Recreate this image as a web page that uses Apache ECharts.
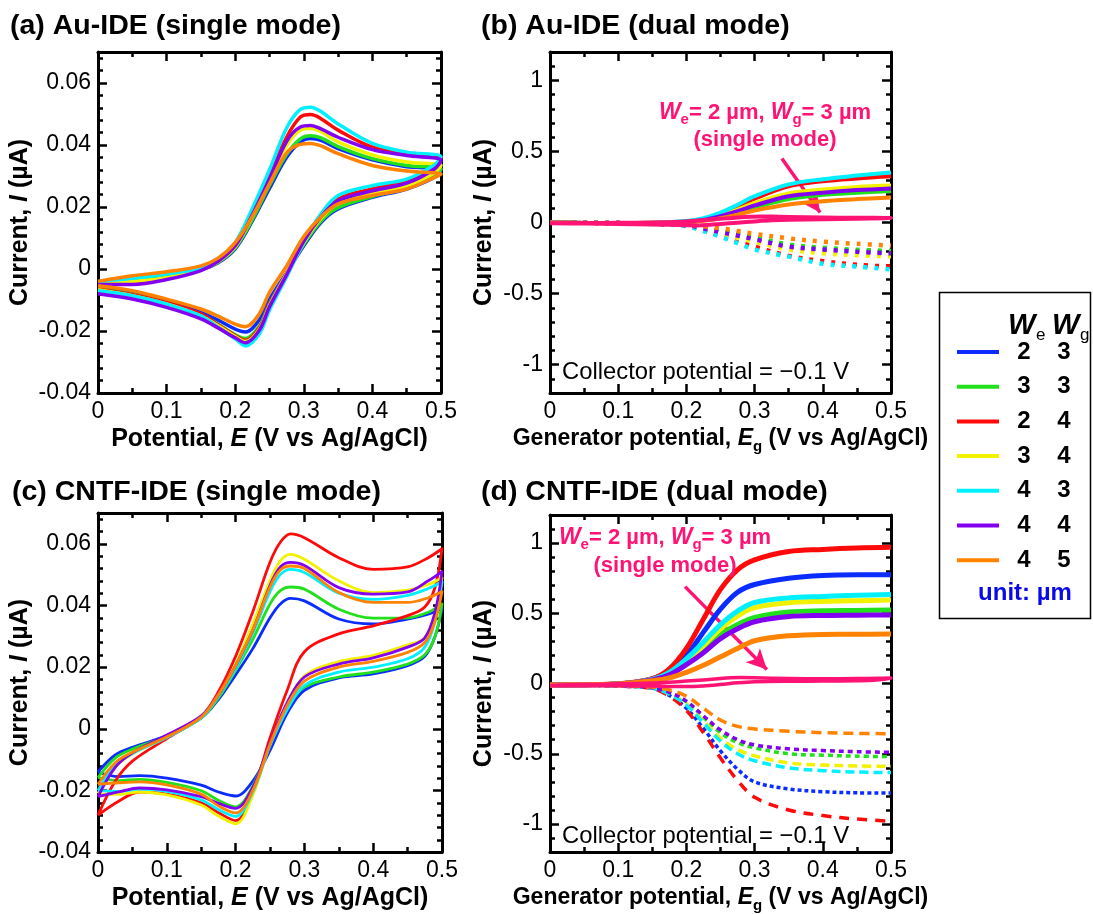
<!DOCTYPE html>
<html>
<head>
<meta charset="utf-8">
<title>IDE redox cycling</title>
<script src="https://cdn.jsdelivr.net/npm/echarts@6/dist/echarts.min.js"></script>
<style>
  html, body { margin: 0; padding: 0; background: #ffffff; }
  #chart { width: 1093px; height: 914px; }
</style>
</head>
<body>
<div id="chart"></div>
<script>
const FONT = '"Liberation Sans", Arial, Helvetica, sans-serif';

// Electrode widths (µm) of the seven designs, in legend order
const electrodeWe = [2, 3, 2, 3, 4, 4, 4];
const electrodeWg = [3, 3, 4, 4, 3, 4, 5];
const traceColors = ['#0a2cff', '#22e01c', '#ff0a0a', '#f2f200', '#00f0ff', '#8400f0', '#ff8200'];
const singleModeColor = '#ff1476';

// Tick labels
const potentialTicks = [0, 0.1, 0.2, 0.3, 0.4, 0.5];
const cvCurrentTicks = [-0.04, -0.02, 0, 0.02, 0.04, 0.06];
const dualCurrentTicks = [-1, -0.5, 0, 0.5, 1];

// (a) Au-IDE, single mode: forward (anodic) sweep, E in V, I in µA
const auCvForwardE = [0, 0.05, 0.1, 0.15, 0.175, 0.2, 0.225, 0.25, 0.275, 0.295, 0.31, 0.325, 0.35, 0.4, 0.45, 0.5];
const auCvForwardI = [
  [-0.0045, -0.0035, -0.0024, -0.0003, 0.0020, 0.0065, 0.0155, 0.0260, 0.0360, 0.0410, 0.0421, 0.0415, 0.0388, 0.0352, 0.0330, 0.0320],
  [-0.0045, -0.0035, -0.0025, -0.0003, 0.0022, 0.0068, 0.0160, 0.0270, 0.0370, 0.0420, 0.0430, 0.0423, 0.0395, 0.0356, 0.0334, 0.0323],
  [-0.0045, -0.0043, -0.0030, -0.0003, 0.0025, 0.0075, 0.0180, 0.0300, 0.0425, 0.0490, 0.0498, 0.0485, 0.0448, 0.0393, 0.0372, 0.0360],
  [-0.0045, -0.0040, -0.0028, -0.0003, 0.0024, 0.0072, 0.0170, 0.0285, 0.0398, 0.0448, 0.0453, 0.0443, 0.0410, 0.0368, 0.0345, 0.0334],
  [-0.0040, -0.0030, -0.0016, 0.0003, 0.0030, 0.0085, 0.0195, 0.0320, 0.0455, 0.0515, 0.0522, 0.0508, 0.0468, 0.0405, 0.0377, 0.0362],
  [-0.0050, -0.0050, -0.0034, -0.0005, 0.0025, 0.0075, 0.0175, 0.0290, 0.0412, 0.0458, 0.0463, 0.0452, 0.0425, 0.0385, 0.0366, 0.0350],
  [-0.0040, -0.0022, -0.0009, 0.0010, 0.0035, 0.0085, 0.0170, 0.0275, 0.0375, 0.0402, 0.0405, 0.0397, 0.0372, 0.0334, 0.0316, 0.0306]
];
// (a) reverse (cathodic) sweep
const auCvReverseE = [0.5, 0.49, 0.45, 0.4, 0.35, 0.325, 0.3, 0.275, 0.25, 0.235, 0.215, 0.2, 0.175, 0.15, 0.1, 0.05, 0];
const auCvReverseI = [
  [0.0320, 0.0295, 0.0258, 0.0231, 0.0194, 0.0150, 0.0075, -0.0012, -0.0098, -0.0165, -0.0203, -0.0194, -0.0165, -0.0140, -0.0102, -0.0078, -0.0060],
  [0.0323, 0.0298, 0.0262, 0.0234, 0.0198, 0.0155, 0.0080, -0.0015, -0.0112, -0.0185, -0.0224, -0.0212, -0.0178, -0.0148, -0.0108, -0.0082, -0.0063],
  [0.0360, 0.0325, 0.0283, 0.0258, 0.0226, 0.0172, 0.0090, -0.0015, -0.0115, -0.0190, -0.0230, -0.0215, -0.0180, -0.0145, -0.0108, -0.0083, -0.0065],
  [0.0334, 0.0310, 0.0269, 0.0244, 0.0212, 0.0163, 0.0085, -0.0015, -0.0118, -0.0195, -0.0234, -0.0218, -0.0183, -0.0152, -0.0113, -0.0086, -0.0067],
  [0.0362, 0.0335, 0.0290, 0.0269, 0.0237, 0.0178, 0.0088, -0.0025, -0.0132, -0.0210, -0.0248, -0.0225, -0.0188, -0.0151, -0.0113, -0.0086, -0.0070],
  [0.0350, 0.0322, 0.0277, 0.0252, 0.0220, 0.0168, 0.0090, -0.0018, -0.0122, -0.0198, -0.0238, -0.0222, -0.0190, -0.0161, -0.0124, -0.0097, -0.0080],
  [0.0306, 0.0295, 0.0258, 0.0237, 0.0210, 0.0168, 0.0105, 0.0010, -0.0075, -0.0145, -0.0186, -0.0178, -0.0152, -0.0129, -0.0097, -0.0070, -0.0054]
];

// (c) CNTF-IDE, single mode: forward sweep
const cntfCvForwardE = [0, 0.025, 0.05, 0.1, 0.15, 0.175, 0.2, 0.225, 0.25, 0.265, 0.28, 0.3, 0.35, 0.4, 0.45, 0.48, 0.5];
const cntfCvForwardI = [
  [-0.0140, -0.0085, -0.0060, -0.0022, 0.0035, 0.0095, 0.0175, 0.0260, 0.0360, 0.0405, 0.0423, 0.0415, 0.0356, 0.0340, 0.0356, 0.0372, 0.0390],
  [-0.0158, -0.0095, -0.0066, -0.0024, 0.0035, 0.0100, 0.0190, 0.0290, 0.0405, 0.0448, 0.0460, 0.0453, 0.0388, 0.0359, 0.0360, 0.0378, 0.0405],
  [-0.0280, -0.0170, -0.0105, -0.0032, 0.0040, 0.0120, 0.0235, 0.0380, 0.0540, 0.0605, 0.0632, 0.0620, 0.0555, 0.0517, 0.0525, 0.0555, 0.0584],
  [-0.0210, -0.0125, -0.0082, -0.0027, 0.0040, 0.0110, 0.0210, 0.0340, 0.0480, 0.0545, 0.0566, 0.0550, 0.0480, 0.0442, 0.0450, 0.0468, 0.0490],
  [-0.0200, -0.0120, -0.0080, -0.0028, 0.0035, 0.0105, 0.0195, 0.0310, 0.0445, 0.0500, 0.0517, 0.0507, 0.0440, 0.0420, 0.0433, 0.0455, 0.0477],
  [-0.0220, -0.0125, -0.0078, -0.0020, 0.0042, 0.0110, 0.0205, 0.0320, 0.0465, 0.0525, 0.0540, 0.0530, 0.0458, 0.0437, 0.0444, 0.0480, 0.0510],
  [-0.0180, -0.0110, -0.0076, -0.0026, 0.0038, 0.0110, 0.0205, 0.0320, 0.0460, 0.0515, 0.0528, 0.0520, 0.0442, 0.0410, 0.0410, 0.0425, 0.0445]
];
// (c) reverse sweep
const cntfCvReverseE = [0.5, 0.49, 0.475, 0.45, 0.4, 0.35, 0.3, 0.275, 0.25, 0.225, 0.2, 0.175, 0.15, 0.1, 0.06, 0.03, 0];
const cntfCvReverseI = [
  [0.0390, 0.0300, 0.0235, 0.0205, 0.0178, 0.0165, 0.0125, 0.0050, -0.0070, -0.0170, -0.0218, -0.0205, -0.0183, -0.0160, -0.0152, -0.0155, -0.0140],
  [0.0405, 0.0300, 0.0240, 0.0210, 0.0184, 0.0168, 0.0135, 0.0065, -0.0050, -0.0185, -0.0253, -0.0232, -0.0201, -0.0174, -0.0164, -0.0168, -0.0158],
  [0.0584, 0.0460, 0.0395, 0.0367, 0.0334, 0.0308, 0.0250, 0.0125, -0.0030, -0.0205, -0.0298, -0.0272, -0.0240, -0.0212, -0.0205, -0.0235, -0.0280],
  [0.0490, 0.0370, 0.0295, 0.0272, 0.0238, 0.0218, 0.0172, 0.0080, -0.0050, -0.0215, -0.0308, -0.0283, -0.0247, -0.0214, -0.0205, -0.0213, -0.0210],
  [0.0477, 0.0350, 0.0265, 0.0227, 0.0200, 0.0184, 0.0141, 0.0062, -0.0055, -0.0205, -0.0284, -0.0262, -0.0231, -0.0203, -0.0196, -0.0203, -0.0200],
  [0.0510, 0.0380, 0.0295, 0.0265, 0.0230, 0.0210, 0.0168, 0.0085, -0.0045, -0.0190, -0.0258, -0.0242, -0.0220, -0.0198, -0.0192, -0.0205, -0.0220],
  [0.0445, 0.0350, 0.0280, 0.0248, 0.0219, 0.0200, 0.0155, 0.0076, -0.0050, -0.0200, -0.0273, -0.0250, -0.0212, -0.0182, -0.0172, -0.0175, -0.0180]
];

// (b) Au-IDE, dual mode (collector held at -0.1 V)
const auDualE = [0, 0.05, 0.1, 0.15, 0.2, 0.225, 0.25, 0.275, 0.3, 0.35, 0.4, 0.45, 0.5];
const auGeneratorI = [
  [0, -0.003, -0.004, -0.003, 0.005, 0.017, 0.042, 0.075, 0.112, 0.172, 0.203, 0.218, 0.228],
  [0, -0.003, -0.004, -0.003, 0.004, 0.015, 0.038, 0.070, 0.105, 0.165, 0.195, 0.210, 0.222],
  [0, -0.003, -0.004, -0.002, 0.008, 0.025, 0.060, 0.110, 0.168, 0.255, 0.290, 0.310, 0.325],
  [0, -0.003, -0.004, -0.002, 0.006, 0.020, 0.050, 0.090, 0.138, 0.205, 0.232, 0.250, 0.260],
  [0, -0.003, -0.004, -0.002, 0.010, 0.030, 0.070, 0.125, 0.185, 0.268, 0.305, 0.330, 0.352],
  [0, -0.003, -0.004, -0.003, 0.005, 0.018, 0.045, 0.080, 0.120, 0.185, 0.210, 0.228, 0.240],
  [0, -0.003, -0.004, -0.003, 0.003, 0.012, 0.030, 0.055, 0.085, 0.127, 0.150, 0.165, 0.176]
];
const auCollectorI = [
  [0, -0.002, -0.004, -0.008, -0.018, -0.040, -0.065, -0.090, -0.115, -0.165, -0.188, -0.200, -0.210],
  [0, -0.002, -0.004, -0.008, -0.016, -0.035, -0.058, -0.080, -0.103, -0.155, -0.178, -0.192, -0.200],
  [0, -0.002, -0.004, -0.009, -0.024, -0.055, -0.095, -0.135, -0.170, -0.235, -0.272, -0.298, -0.310],
  [0, -0.002, -0.004, -0.008, -0.020, -0.045, -0.078, -0.108, -0.135, -0.190, -0.216, -0.230, -0.238],
  [0, -0.002, -0.004, -0.010, -0.026, -0.060, -0.100, -0.145, -0.190, -0.240, -0.290, -0.310, -0.330],
  [0, -0.002, -0.004, -0.008, -0.018, -0.042, -0.068, -0.092, -0.118, -0.170, -0.190, -0.206, -0.218],
  [0, -0.002, -0.004, -0.007, -0.014, -0.026, -0.040, -0.060, -0.080, -0.112, -0.135, -0.150, -0.162]
];

// (d) CNTF-IDE, dual mode
const cntfDualE = [0, 0.05, 0.1, 0.15, 0.175, 0.2, 0.225, 0.25, 0.275, 0.3, 0.35, 0.4, 0.45, 0.5];
const cntfGeneratorI = [
  [-0.01, -0.008, -0.003, 0.033, 0.090, 0.200, 0.366, 0.530, 0.650, 0.705, 0.750, 0.770, 0.775, 0.775],
  [-0.01, -0.008, -0.003, 0.027, 0.070, 0.150, 0.250, 0.350, 0.420, 0.470, 0.510, 0.518, 0.520, 0.523],
  [-0.01, -0.008, -0.002, 0.035, 0.105, 0.250, 0.460, 0.670, 0.810, 0.880, 0.940, 0.955, 0.965, 0.970],
  [-0.01, -0.008, -0.003, 0.028, 0.072, 0.160, 0.270, 0.390, 0.480, 0.540, 0.575, 0.585, 0.590, 0.594],
  [-0.01, -0.008, -0.003, 0.030, 0.080, 0.176, 0.295, 0.420, 0.516, 0.577, 0.610, 0.620, 0.628, 0.634],
  [-0.01, -0.008, -0.003, 0.025, 0.062, 0.135, 0.220, 0.320, 0.390, 0.440, 0.477, 0.485, 0.487, 0.488],
  [-0.01, -0.008, -0.003, 0.020, 0.040, 0.080, 0.130, 0.190, 0.250, 0.305, 0.340, 0.350, 0.351, 0.352]
];
const cntfCollectorI = [
  [-0.01, -0.012, -0.018, -0.035, -0.085, -0.176, -0.320, -0.480, -0.610, -0.700, -0.750, -0.770, -0.778, -0.780],
  [-0.01, -0.012, -0.016, -0.030, -0.065, -0.130, -0.240, -0.350, -0.420, -0.458, -0.500, -0.510, -0.517, -0.520],
  [-0.01, -0.012, -0.018, -0.035, -0.090, -0.190, -0.350, -0.530, -0.690, -0.810, -0.900, -0.940, -0.965, -0.980],
  [-0.01, -0.012, -0.017, -0.032, -0.072, -0.145, -0.265, -0.390, -0.470, -0.515, -0.565, -0.580, -0.587, -0.590],
  [-0.01, -0.012, -0.017, -0.033, -0.075, -0.153, -0.280, -0.410, -0.500, -0.550, -0.600, -0.620, -0.630, -0.634],
  [-0.01, -0.012, -0.016, -0.030, -0.062, -0.125, -0.230, -0.330, -0.400, -0.437, -0.465, -0.477, -0.485, -0.490],
  [-0.01, -0.012, -0.015, -0.025, -0.045, -0.090, -0.176, -0.260, -0.305, -0.324, -0.340, -0.350, -0.355, -0.357]
];

// ---------------------------------------------------------------------------

const seriesNames = electrodeWe.map((we, k) => 'We' + we + 'Wg' + electrodeWg[k]);
const collectorDash = [[4, 3], [5, 4], [10, 8], [9, 5], [9, 5], [5, 4], [10, 6]];

function pairs(es, is) { return es.map((e, k) => [e, is[k]]); }
function loop(fe, fi, re, ri) { return pairs(fe, fi).concat(pairs(re, ri)); }
function subdivide(ticks, parts) {
  const out = [];
  for (let k = 0; k < ticks.length - 1; k++) {
    const step = (ticks[k + 1] - ticks[k]) / parts;
    for (let j = 0; j < parts; j++) out.push(+(ticks[k] + j * step).toFixed(6));
  }
  out.push(ticks[ticks.length - 1]);
  return out;
}
function stepTicks(lo, hi, step) {
  const out = [];
  for (let v = lo; v <= hi + 1e-9; v += step) out.push(+v.toFixed(6));
  return out;
}

function nameStyle(size) {
  return {
    fontSize: size, fontWeight: 'bold', color: '#000', fontFamily: FONT, lineHeight: 30,
    rich: {
      i: { fontSize: size, fontWeight: 'bold', fontStyle: 'italic', fontFamily: FONT, color: '#000', lineHeight: 30 },
      s: { fontSize: Math.round(size * 0.66), fontWeight: 'bold', fontFamily: FONT, color: '#000', verticalAlign: 'bottom', lineHeight: 18 }
    }
  };
}

// Four axes per side pair: main (labels + major ticks), minor ticks, opposite major, opposite minor
function boxAxes(isX, g, range, majors, minors, fmt, name, nameGap, nameSize) {
  const sides = isX ? ['bottom', 'top'] : ['left', 'right'];
  const out = [];
  sides.forEach((pos, s) => {
    [true, false].forEach(major => {
      const main = major && s === 0;
      out.push({
        type: 'value', gridIndex: g, min: range[0], max: range[1], position: pos,
        axisLine: { show: major, onZero: false, lineStyle: { color: '#000', width: 3 } },
        axisTick: { show: true, inside: true, length: major ? 9 : 5, customValues: major ? majors : minors,
                    lineStyle: { color: '#000', width: 2.5 } },
        axisLabel: { show: main, customValues: majors, formatter: fmt, margin: 7,
                     fontSize: 23, color: '#000', fontFamily: FONT },
        splitLine: { show: false },
        axisPointer: { show: false },
        name: main ? name : '',
        nameLocation: 'middle', nameGap: nameGap, nameTextStyle: nameStyle(nameSize),
        silent: true
      });
    });
  });
  return out;
}

const fmtPotential = v => (v === 0 ? '0' : String(+v.toFixed(2)));
const fmtCv = v => (Math.abs(v) < 1e-9 ? '0' : v.toFixed(2));
const fmtDual = v => (Math.abs(v) < 1e-9 ? '0' : String(v));

const potentialMinor = subdivide(potentialTicks, 2);
const cvMinor = stepTicks(-0.04, 0.07, 0.004);
const dualMinor = stepTicks(-1.2, 1.2, 0.1);

const grids = [
  { left: 98, top: 52, width: 343, height: 341 },
  { left: 550, top: 52, width: 341, height: 341 },
  { left: 98, top: 513, width: 344, height: 342 },
  { left: 550, top: 515, width: 341, height: 340 }
];

const xName1 = 'Potential, {i|E} (V vs Ag/AgCl)';
const xName2 = 'Generator potential, {i|E}{s|g} (V vs Ag/AgCl)';
const yName = 'Current, {i|I} (\u00b5A)';

const xAxes = [].concat(
  boxAxes(true, 0, [0, 0.5], potentialTicks, potentialMinor, fmtPotential, xName1, 28, 25),
  boxAxes(true, 1, [0, 0.5], potentialTicks, potentialMinor, fmtPotential, xName2, 28, 23),
  boxAxes(true, 2, [0, 0.5], potentialTicks, potentialMinor, fmtPotential, xName1, 28, 25),
  boxAxes(true, 3, [0, 0.5], potentialTicks, potentialMinor, fmtPotential, xName2, 28, 23)
);
const yAxes = [].concat(
  boxAxes(false, 0, [-0.04, 0.07], cvCurrentTicks, cvMinor, fmtCv, yName, 60, 25),
  boxAxes(false, 1, [-1.2, 1.2], dualCurrentTicks, dualMinor, fmtDual, yName, 44, 25),
  boxAxes(false, 2, [-0.04, 0.07], cvCurrentTicks, cvMinor, fmtCv, yName, 60, 25),
  boxAxes(false, 3, [-1.2, 1.2], dualCurrentTicks, dualMinor, fmtDual, yName, 44, 25)
);

function trace(g, name, color, data, width, dash, z) {
  return {
    type: 'line', name: name, xAxisIndex: 4 * g, yAxisIndex: 4 * g,
    data: data, smooth: 0.35, symbol: 'none', showSymbol: false, clip: true,
    lineStyle: { color: color, width: width, type: dash || 'solid', cap: 'butt', join: 'round' },
    itemStyle: { color: color }, z: z, silent: true, animation: false
  };
}

const series = [];
// (a)
auCvForwardI.forEach((fi, k) => series.push(
  trace(0, seriesNames[k], traceColors[k], loop(auCvForwardE, fi, auCvReverseE, auCvReverseI[k]), 3.5, null, 2 + k)));
// (c)
cntfCvForwardI.forEach((fi, k) => series.push(
  trace(2, seriesNames[k], traceColors[k], loop(cntfCvForwardE, fi, cntfCvReverseE, cntfCvReverseI[k]), 2.8, null, 2 + k)));
// (b)
auCollectorI.forEach((ci, k) => series.push(
  trace(1, seriesNames[k], traceColors[k], pairs(auDualE, ci), 4.5, [4, 7], 2 + k)));
auGeneratorI.forEach((gi, k) => series.push(
  trace(1, seriesNames[k], traceColors[k], pairs(auDualE, gi), 4, null, 10 + k)));
// (d)
cntfCollectorI.forEach((ci, k) => series.push(
  trace(3, seriesNames[k], traceColors[k], pairs(cntfDualE, ci), 3.5, collectorDash[k], 2 + k)));
cntfGeneratorI.forEach((gi, k) => series.push(
  trace(3, seriesNames[k], traceColors[k], pairs(cntfDualE, gi), 5, null, 10 + k)));

// Single-mode CV of the We = 2 µm, Wg = 3 µm device drawn on the dual-mode scale, with a pointer arrow
function singleModeTrace(g, data, width, arrowFrom, arrowTo) {
  const s = trace(g, 'single mode', singleModeColor, data, width, null, 20);
  s.markLine = {
    silent: true, animation: false, symbol: ['none', 'arrow'], symbolSize: [15, 20],
    label: { show: false },
    lineStyle: { color: singleModeColor, width: 3.5, type: 'solid' },
    data: [[{ coord: arrowFrom }, { coord: arrowTo }]]
  };
  return s;
}
series.push(singleModeTrace(1, loop(auCvForwardE, auCvForwardI[0], auCvReverseE, auCvReverseI[0]), 4, [0.34, 0.45], [0.396, 0.07]));
series.push(singleModeTrace(3, loop(cntfCvForwardE, cntfCvForwardI[0], cntfCvReverseE, cntfCvReverseI[0]), 3.5, [0.198, 0.69], [0.318, 0.10]));

function txt(x, y, text, opts) {
  const o = opts || {};
  return {
    type: 'text', silent: true, z: 50,
    style: Object.assign({
      x: x, y: y, text: text, fill: '#000',
      font: (o.weight || 'normal') + ' ' + (o.size || 23) + 'px ' + FONT,
      textAlign: o.align || 'left', textVerticalAlign: 'middle',
      align: o.align || 'left', verticalAlign: 'middle'
    }, o.extra || {})
  };
}

const pinkRich = {
  w: { fontSize: 23, fontWeight: 'bold', fontStyle: 'italic', fontFamily: FONT, fill: singleModeColor, lineHeight: 28 },
  s: { fontSize: 15, fontWeight: 'bold', fontFamily: FONT, fill: singleModeColor, verticalAlign: 'bottom', lineHeight: 16 },
  t: { fontSize: 22, fontWeight: 'bold', fontFamily: FONT, fill: singleModeColor, lineHeight: 28 }
};
const pinkLine = '{w|W}{s|e}{t|= 2 \u00b5m, }{w|W}{s|g}{t|= 3 \u00b5m}';
const italicW = { font: 'italic bold 29px ' + FONT };

const graphics = [
  txt(10, 26, '(a) Au-IDE (single mode)', { weight: 'bold', size: 28.5 }),
  txt(481, 26, '(b) Au-IDE (dual mode)', { weight: 'bold', size: 28.5 }),
  txt(12, 492, '(c) CNTF-IDE (single mode)', { weight: 'bold', size: 28.5 }),
  txt(481, 492, '(d) CNTF-IDE (dual mode)', { weight: 'bold', size: 28.5 }),

  txt(765, 113, pinkLine, { align: 'center', extra: { rich: pinkRich } }),
  txt(765, 140, '(single mode)', { weight: 'bold', size: 22, align: 'center', extra: { fill: singleModeColor } }),
  txt(665, 538, pinkLine, { align: 'center', extra: { rich: pinkRich } }),
  txt(665, 566, '(single mode)', { weight: 'bold', size: 22, align: 'center', extra: { fill: singleModeColor } }),

  txt(562, 372, 'Collector potential = \u22120.1 V', { size: 23.8 }),
  txt(562, 836, 'Collector potential = \u22120.1 V', { size: 23.8 }),

  // legend frame and header
  { type: 'rect', silent: true, z: 40,
    shape: { x: 939.5, y: 292.5, width: 151, height: 326 },
    style: { fill: 'none', stroke: '#000', lineWidth: 1.5 } },
  txt(1008, 326, 'W', { extra: italicW }),
  txt(1036, 335, 'e', { size: 17 }),
  txt(1052, 326, 'W', { extra: italicW }),
  txt(1080, 335, 'g', { size: 17 }),
  txt(1025, 593, 'unit: \u00b5m', { weight: 'bold', size: 24, align: 'center', extra: { fill: '#0a0ae6' } })
];

const chart = echarts.init(document.getElementById('chart'), null, { renderer: 'canvas' });
chart.setOption({
  animation: false,
  backgroundColor: '#ffffff',
  textStyle: { fontFamily: FONT },
  grid: grids,
  xAxis: xAxes,
  yAxis: yAxes,
  legend: {
    data: seriesNames, orient: 'vertical', left: 957, top: 339, padding: 0,
    itemWidth: 42, itemHeight: 4, itemGap: 8.7, icon: 'rect', selectedMode: false,
    formatter: name => {
      const k = seriesNames.indexOf(name);
      return '{a|' + electrodeWe[k] + '}{b|' + electrodeWg[k] + '}';
    },
    textStyle: {
      fontSize: 24, fontWeight: 'bold', color: '#000', fontFamily: FONT, lineHeight: 26,
      rich: {
        a: { width: 40, align: 'center', fontSize: 24, fontWeight: 'bold', color: '#000', fontFamily: FONT, lineHeight: 26 },
        b: { width: 40, align: 'center', fontSize: 24, fontWeight: 'bold', color: '#000', fontFamily: FONT, lineHeight: 26 }
      }
    }
  },
  graphic: graphics,
  series: series
});
</script>
</body>
</html>
